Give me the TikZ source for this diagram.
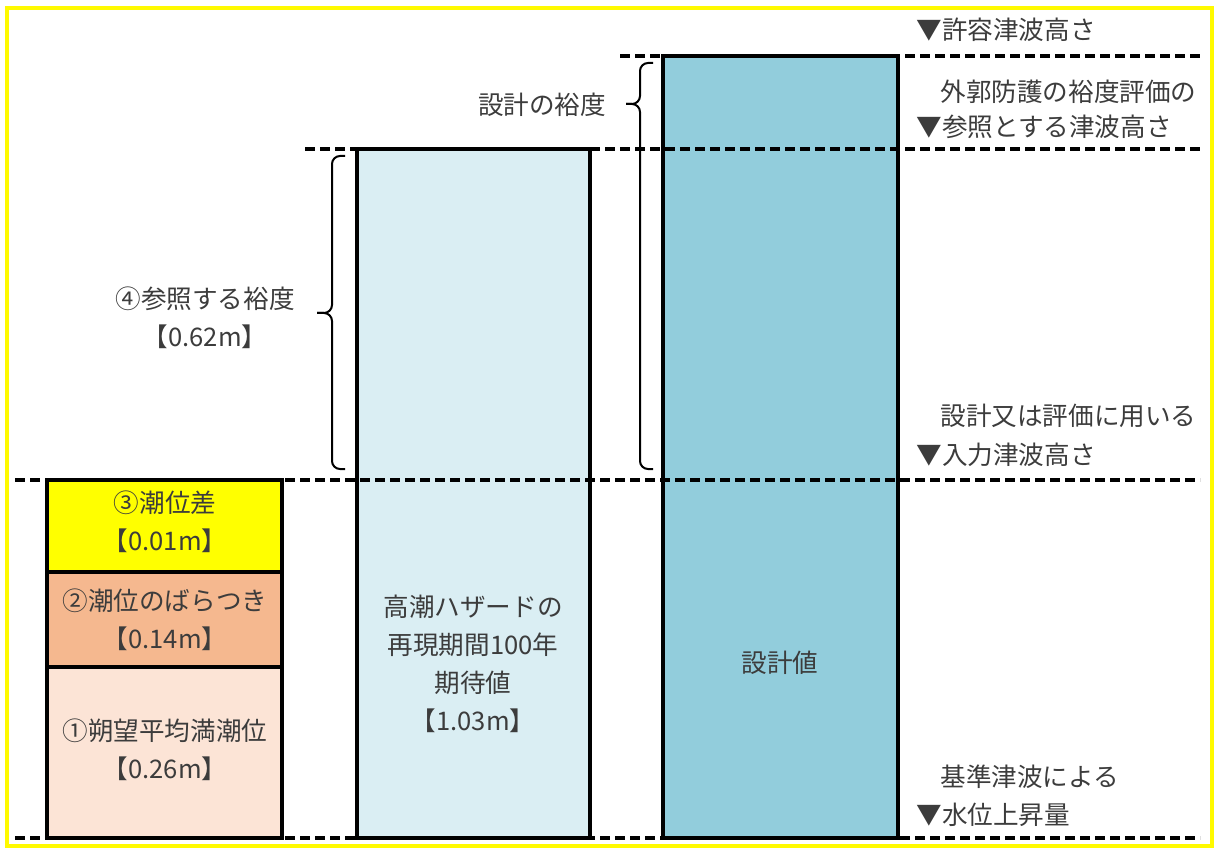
\documentclass[tikz,border=0pt]{standalone}
\usepackage{fontspec}
\setmainfont{Noto Sans CJK JP}
\usepackage{xcolor}
\definecolor{frameY}{RGB}{255,250,0}
\definecolor{tideDiff}{RGB}{255,255,0}
\definecolor{tideVar}{RGB}{245,184,143}
\definecolor{tideMean}{RGB}{252,228,214}
\definecolor{surge}{RGB}{218,238,243}
\definecolor{design}{RGB}{146,205,220}
\definecolor{txt}{RGB}{60,60,60}

\begin{document}
\begin{tikzpicture}[
    x=0.5pt, y=-0.5pt,
    level/.style={dash pattern=on 5pt off 2.5pt, line width=1.6pt},
    bar/.style={line width=2pt},
    lbl/.style={font=\fontsize{12.8}{19}\selectfont, text=txt, align=center, inner sep=0pt},
    side/.style={lbl, anchor=west, align=left},
    brc/.style={line width=1pt, rounded corners=4pt},
]
    \useasboundingbox (0,0) rectangle (1216,850);
    \draw[frameY, line width=2pt] (7,8) rectangle (1212,846);

    % fills
    \fill[tideDiff] (47,480) rectangle (282,572);
    \fill[tideVar]  (47,572) rectangle (282,667);
    \fill[tideMean] (47,667) rectangle (282,838);
    \fill[surge]    (357,149) rectangle (590,838);
    \fill[design]   (663,56) rectangle (898,838);

    % levels
    \draw[level] (620,56) -- (1200,56);
    \draw[level] (305,149) -- (1200,149);
    \draw[level] (15,480) -- (1200,480);
    \draw[level] (15,838) -- (1200,838);

    % bars
    \draw[bar] (47,480) rectangle (282,838);
    \draw[bar] (47,572) -- (282,572);
    \draw[bar] (47,667) -- (282,667);
    \draw[bar] (357,149) rectangle (590,838);
    \draw[bar] (663,56) rectangle (898,838);

    \node[lbl] (diff) at (165,522) {③潮位差\\【0.01m】};
    \node[lbl] (var)  at (165,620) {②潮位のばらつき\\【0.14m】};
    \node[lbl] (mean) at (165,750) {①朔望平均満潮位\\【0.26m】};
    \node[lbl] (hazard) at (473,664) {高潮ハザードの\\再現期間100年\\期待値\\【1.03m】};
    \node[lbl] (value) at (780,663) {設計値};

    % margins
    \draw[brc] (345,156) -- (332,156) -- (332,313) -- (317,313);
    \draw[brc] (317,313) -- (332,313) -- (332,469) -- (345,469);
    \node[lbl] (refmargin) at (205,318) {④参照する裕度\\【0.62m】};
    \draw[brc] (653,63) -- (640,63) -- (640,104) -- (626,104);
    \draw[brc] (626,104) -- (640,104) -- (640,469) -- (653,469);
    \node[lbl] (desmargin) at (542,105) {設計の裕度};

    % level names
    \node[side] (allow) at (916,30) {▼許容津波高さ};
    \node[side] (ref1) at (940,92) {外郭防護の裕度評価の};
    \node[side] (ref2) at (916,127) {▼参照とする津波高さ};
    \node[side] (in1) at (940,416) {設計又は評価に用いる};
    \node[side] (in2) at (916,455) {▼入力津波高さ};
    \node[side] (rise1) at (940,777) {基準津波による};
    \node[side] (rise2) at (916,815) {▼水位上昇量};
\end{tikzpicture}
\end{document}
